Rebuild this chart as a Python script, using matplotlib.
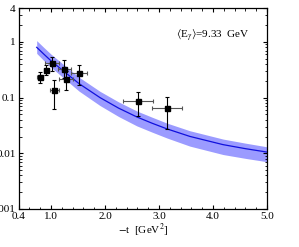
import matplotlib
matplotlib.use("Agg")
import matplotlib.pyplot as plt
import numpy as np

plt.rcParams["font.family"] = ["Liberation Serif", "DejaVu Serif"]
plt.rcParams["mathtext.fontset"] = "stix"

# model curve and its uncertainty band
t_model = [0.735, 0.87, 1.0, 1.26, 1.52, 1.907, 2.25, 2.59, 2.87, 3.148, 3.57, 4.185, 4.6, 5.0]
xs_model = [0.80, 0.60, 0.458, 0.285, 0.178, 0.100, 0.0648, 0.0449, 0.0347, 0.0274, 0.0201, 0.0143, 0.0121, 0.0105]
band_hi = [1.055, 0.79, 0.603, 0.373, 0.232, 0.1296, 0.0838, 0.0574, 0.0445, 0.0348, 0.0254, 0.0180, 0.0152, 0.01306]
band_lo = [0.623, 0.46, 0.3505, 0.214, 0.1306, 0.0720, 0.0458, 0.031, 0.0240, 0.0188, 0.01345, 0.0095, 0.0081, 0.00705]

# measured points
t_data = [0.796, 0.913, 1.013, 1.061, 1.241, 1.272, 1.524, 2.611, 3.154]
t_err = [0.05, 0.05, 0.13, 0.08, 0.12, 0.13, 0.15, 0.27, 0.28]
xs_data = [0.234, 0.316, 0.41, 0.135, 0.325, 0.218, 0.276, 0.0873, 0.0644]
xs_lo = [0.183, 0.258, 0.295, 0.063, 0.225, 0.135, 0.171, 0.0464, 0.0268]
xs_hi = [0.283, 0.388, 0.547, 0.21, 0.464, 0.295, 0.384, 0.126, 0.103]

x_ticks = [0.4, 1.0, 2.0, 3.0, 4.0, 5.0]
x_labels = ["0.4", "1.0", "2.0", "3.0", "4.0", "5.0"]
y_ticks = [0.001, 0.01, 0.1, 1, 4]
y_labels = ["0.001", "0.01", "0.1", "1", "4"]

fig = plt.figure(figsize=(2.99, 2.47), dpi=100)
ax = fig.add_axes([0.0622, 0.154, 0.831, 0.812])

ax.fill_between(t_model, band_lo, band_hi, color="#9b9bff", linewidth=0)
ax.plot(t_model, xs_model, color="#1010dd", linewidth=0.9)

y = np.array(xs_data)
yerr = [y - np.array(xs_lo), np.array(xs_hi) - y]
ax.errorbar(t_data, xs_data, xerr=t_err, fmt="none", ecolor="#555555",
            elinewidth=0.8, capsize=1.5, capthick=0.8)
ax.errorbar(t_data, xs_data, yerr=yerr, fmt="s", color="black", ms=3.6,
            ecolor="black", elinewidth=0.8, capsize=1.5, capthick=0.8)

ax.set_yscale("log")
ax.set_xlim(0.4, 5.0)
ax.set_ylim(0.001, 4)
ax.set_xticks(x_ticks)
ax.set_xticklabels(x_labels)
ax.set_xticks(np.arange(0.6, 5.0, 0.2), minor=True)
ax.set_yticks(y_ticks)
ax.set_yticklabels(y_labels)
ax.yaxis.set_minor_locator(matplotlib.ticker.LogLocator(subs=np.arange(2, 10)))
ax.yaxis.set_minor_formatter(matplotlib.ticker.NullFormatter())

ax.tick_params(which="both", direction="in", top=True, right=True, labelsize=8, pad=2)
ax.tick_params(which="major", length=3.2, width=0.8)
ax.tick_params(which="minor", length=1.8, width=0.6)
for s in ax.spines.values():
    s.set_linewidth(0.9)

ax.set_xlabel(r"$-$t  [GeV$^2$]", fontsize=8, labelpad=1)
ax.text(0.634, 0.867, r"$\langle$E$_\gamma\rangle$=9.33  GeV", transform=ax.transAxes,
        fontsize=8, va="center", ha="left")

fig.savefig("out.png", dpi=100)
